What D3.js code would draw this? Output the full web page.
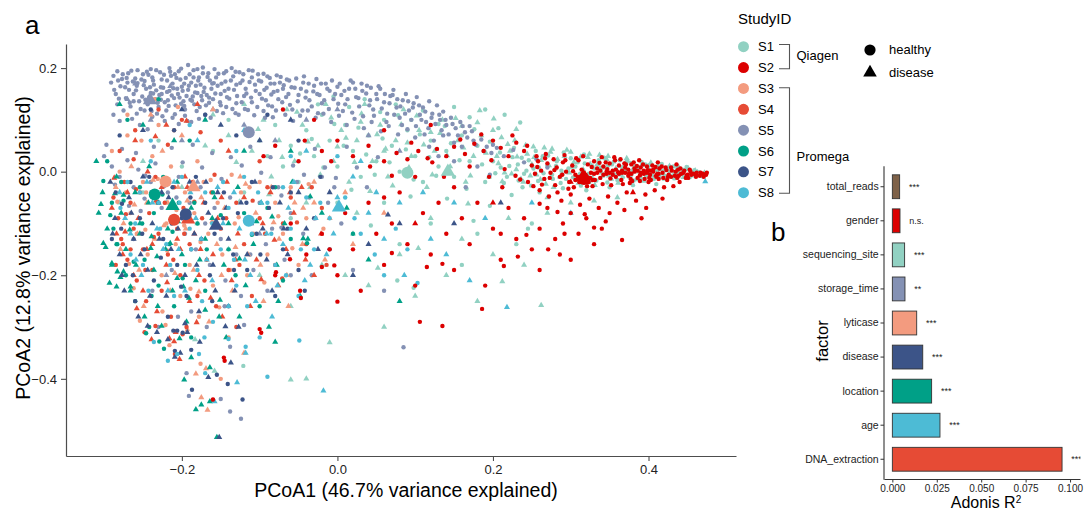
<!DOCTYPE html>
<html>
<head>
<meta charset="utf-8">
<script src="https://cdn.jsdelivr.net/npm/d3@7"></script>
<style>
  body { margin: 0; background: #fff; }
  svg { display: block; font-family: "Liberation Sans", Arial, Helvetica, sans-serif; }
</style>
</head>
<body>
<svg id="chart" width="1084" height="511"></svg>
<script>
// ---------- data ----------
// PCoA1 / PCoA2 coordinates, in thousandths
const s1Healthy = [[200,20],[210,8],[218,-10],[225,28],[232,14],[240,-4],[246,22],[252,6],[258,-18],[264,30],[270,12],[276,-6],[282,20],[288,2],[294,-14],[300,26],[306,10],[312,-4],[318,16],[324,-20],[330,6],[336,22],[342,-8],[348,12],[354,0],[360,-16],[366,8],[372,20],[378,-6],[384,4],[390,-12],[396,14],[402,-2],[408,8],[414,-10],[420,2],[426,-6],[432,10],[438,-2],[444,4],[450,-8],[456,0],[462,-4],[238,-30],[260,-40],[290,-32],[320,-36],[350,-30],[380,-26],[410,-24],
  [-100,60],[-90,30],[-80,90],[-70,10],[-60,50],[-50,-20],[-40,80],[-30,30],[-20,110],[-10,60],[0,10],[10,90],[20,40],[30,-10],[40,70],[50,20],[60,100],[70,50],[80,0],[90,80],[100,30],[110,-20],[120,60],[130,10],[140,40],[150,-10],[160,70],[170,20],[180,50],[190,-20],[-140,100],[-160,40],[-200,10],[-230,60],[-250,-40],[-120,-40],[-60,-90],[0,-60],[60,-60],[120,-100],[180,-120],[230,-140],[250,-100],[80,-140],[160,-180],
  [215,110],[235,95],[190,120],[170,105],[150,125],[130,92],[110,118],[95,100],[75,130],[55,115],[35,140],[15,125],[-5,145],[-25,130],[-121,-375],[77,-210],[98,-224],[245,-110],[175,-95],
  [203,-3],[209,37],[214,-22],[221,11],[227,46],[233,-17],[237,27],[243,2],[249,-27],[255,40],[259,8],[265,-3],[271,31],[277,-14],[281,11],[287,-22],[291,37],[297,6],[303,-11],[309,18],[313,-27],[317,33],[323,-4],[327,12],[333,-17],[339,8],[343,27],[347,-21],[353,14],[357,-6],[363,22],[367,-11],[371,3],[377,17],[381,-17],[387,8],[391,19],[397,-8],[401,13],[407,-14],[411,3],[417,15],[421,-8],[427,1],[433,-13],[437,7],[443,-3],[449,9],[453,-11],[459,3],[465,-1],[469,-9],
  [-48,35],[-33,63],[-18,8],[-4,92],[8,50],[18,-35],[27,85],[37,33],[48,-6],[58,64],[67,18],[78,109],[88,43],[98,-15],[106,72],[118,28],[127,-8],[138,88],[146,55],[157,22],[166,-33],[176,82],[186,14],[196,58],[207,84],[224,-45],[141,-52],[94,-48],[43,-104],[196,-66]];
const s1Disease = [[205,30],[215,-2],[222,40],[230,4],[236,-14],[244,34],[250,14],[256,-6],[262,22],[268,-24],[274,38],[280,6],[286,-10],[292,30],[298,-2],[304,18],[310,-22],[316,4],[322,28],[328,-12],[334,14],[340,-2],[346,24],[352,-14],[358,6],[364,-6],[370,14],[376,-10],[382,10],[388,0],[394,-18],[400,6],[406,-8],[412,12],[418,-4],[424,6],[430,-10],[436,2],[442,-6],[448,4],[454,-4],[460,2],[466,-6],[472,-2],[270,-50],[300,-60],[330,-56],[360,-50],[270,-80],[228,60],[252,48],[276,44],[300,38],[324,34],[348,30],[372,26],
  [-160,110],[-140,70],[-120,130],[-110,40],[-95,100],[-85,-10],[-75,60],[-65,120],[-55,20],[-45,90],[-35,-30],[-25,50],[-15,130],[-5,20],[5,80],[15,-20],[25,60],[35,130],[45,20],[55,90],[65,-10],[75,60],[85,120],[95,30],[105,80],[115,-30],[125,40],[135,100],[145,10],[155,60],[165,-20],[175,30],[185,70],[195,-10],[180,95],[200,80],[160,88],[120,76],[90,56],[60,40],[30,96],[0,48],
  [-220,-60],[-180,-100],[-140,-150],[-100,-200],[-60,-260],[-20,-180],[20,-120],[40,-220],[60,-300],[80,-160],[100,-240],[120,-90],[140,-200],[160,-130],[180,-250],[200,-160],[220,-90],[240,-180],[262,-258],[-40,-400],[-10,-330],[-250,20],[-200,-30],[-170,50],[-280,-60],[-183,-324],[-158,-385],[-60,-402],[10,-200],[-126,-58],
  [207,16],[212,-19],[219,53],[224,-4],[231,29],[239,-20],[242,51],[248,-8],[253,28],[261,-15],[266,46],[272,12],[278,-30],[283,24],[289,-4],[295,42],[301,9],[307,-15],[313,29],[319,-8],[325,15],[331,-26],[337,32],[343,7],[349,-8],[355,19],[361,-22],[367,1],[373,21],[379,2],[385,-15],[391,12],[397,-3],[403,17],[409,-10],[415,4],[421,-14],[427,11],[433,-4],[439,8],[445,-11],[451,6],[457,-8],[463,-1],
  [-130,18],[-102,82],[-88,-44],[-71,28],[-52,115],[-38,58],[-22,-6],[-8,104],[11,65],[22,18],[31,112],[42,-38],[51,72],[62,44],[71,-27],[82,91],[92,8],[102,108],[111,52],[122,-6],[132,74],[141,31],[152,103],[162,46],[171,-8],[183,118],[191,36],[201,102],[211,66],[230,82],[-40,-60],[25,-80],[104,-148],[168,-62],[212,-212],[52,-186]];
const s2Healthy = [[250,12],[254,-4],[258,20],[262,2],[266,-14],[270,16],[274,-2],[278,24],[282,8],[286,-10],[290,18],[294,0],[298,-20],[302,12],[306,-6],[310,22],[314,4],[318,-14],[322,14],[326,-2],[330,20],[334,6],[338,-12],[342,10],[346,-4],[350,16],[354,2],[358,-10],[362,12],[366,-2],[370,8],[374,-8],[378,14],[382,0],[386,-12],[390,8],[394,-4],[398,10],[402,-6],[406,4],[410,-10],[414,6],[418,-2],[422,8],[426,-6],[430,2],[434,-8],[438,4],[442,-4],[446,2],[450,-6],[454,0],[458,-4],[462,-2],[466,-8],[470,-4],[474,-6],
  [256,30],[268,34],[280,-26],[292,32],[304,-30],[316,30],[328,-28],[340,28],[352,-26],[364,24],[376,-22],[388,22],[400,-20],[412,18],[424,-16],[436,14],[448,-12],
  [260,-36],[272,-48],[288,-56],[300,-44],[312,-64],[324,-52],[336,-70],[348,-48],[360,-60],[372,-40],[384,-56],[396,-44],[408,-36],[420,-30],[432,-28],[440,-20],
  [315,-8],[320,-10],[322,-16],[318,-20],[325,-12],[312,-14],[330,-4],[334,-2],[338,2],[342,-6],[346,0],[350,-2],[354,-6],[358,4],[362,-4],[366,2],[370,-2],[374,4],[378,-4],[382,6],[386,2],[390,-2],[394,2],[398,-2],[402,2],[406,0],
  [345,18],[357,22],[369,16],[381,18],[393,14],[405,12],[417,10],[429,8],[441,6],[453,4],[365,-16],[377,-14],[389,-18],[401,-12],[413,-14],[425,-10],[437,-12],[449,-8],[461,-10],
  [240,40],[230,56],[220,30],[210,46],[200,60],[188,40],[176,54],[164,34],[150,48],[140,30],[128,44],[116,26],[104,40],[90,24],[76,36],[60,20],[40,50],[20,30],[0,60],[-20,40],[-50,20],[-80,50],[-30,100],[-70,120],[60,80],[120,90],[170,10],[195,-10],[215,5],[235,-15],[225,70],[245,-20],
  [-60,-100],[-40,-160],[-20,-120],[0,-200],[10,-80],[20,-150],[30,-230],[40,-60],[50,-120],[60,-180],[70,-100],[80,-40],[90,-140],[100,-220],[110,-80],[120,-160],[130,-60],[140,-120],[150,-190],[160,-90],[170,-140],[180,-60],[190,-220],[200,-110],[210,-170],[220,-70],[230,-130],[240,-90],[250,-150],[260,-110],[270,-70],[280,-130],[290,-100],[300,-80],[310,-120],[320,-90],[330,-140],[340,-110],[350,-80],[260,-190],[300,-170],[-80,-200],[-10,-150],[210,-120],[150,-30],[100,-10],[60,-50],
  [-61,-169],[-20,-184],[-4,-181],[-48,-230],[-47,-244],[0,-251],[-100,-304],[-98,-311],[-146,-359],[-145,-365],[-160,-440],[-79,-194],[70,-157],[115,-184],[135,-178],[186,-265],[214,-182],[106,-290],[135,-298],
  [252,-28],[257,9],[263,-25],[267,26],[273,-12],[279,3],[283,-40],[289,-6],[293,22],[297,-33],[303,1],[307,26],[311,-20],[317,-2],[321,-28],[327,9],[331,-16],[337,17],[341,-24],[347,5],[351,-13],[356,28],[361,-1],[367,-24],[371,14],[375,-3],[379,-18],[385,11],[389,-7],[395,-14],[399,3],[403,-16],[409,9],[413,-4],[419,-12],[423,3],[429,-10],[435,0],[439,-8],[445,-2],[451,-12],[455,-6],[461,-6],[467,-2],[471,-10],[475,-2],[316,-18],[319,-6],[323,-20],[309,-10],[313,-18],[328,-16],[306,-16],[260,-62],[283,-78],[318,-82],[345,-96],[369,-74],[397,-70],[418,-52],[292,-120],[330,-108],[366,-132],[286,-160],[243,-122],[232,-164],[271,-150],[391,-90],
  [158,62],[185,72],[198,22],[229,-8],[244,50],[212,-30],[137,-10],[122,18],[95,56],[70,-8],[42,10],[-8,20],[-42,60],[-95,30]];
const s2Disease = [[320,-12],[380,-40],[200,-60],[100,-100],[300,-20],[410,-6]];
const s3Healthy = [[-290,40],[-280,0],[-272,-40],[-266,-80],[-258,-120],[-250,-20],[-244,-160],[-238,30],[-232,-60],[-226,-200],[-220,-100],[-214,10],[-208,-140],[-202,-240],[-196,-40],[-190,-180],[-184,-80],[-178,-280],[-172,-20],[-166,-120],[-160,-220],[-154,-60],[-148,-160],[-140,-320],[-132,-100],[-124,-40],[-116,-200],[-108,-120],[-100,-20],[-90,-160],[-80,-60],[-70,-120],[-60,-30],[-50,-180],[-40,-90],[-225,-270],[-262,-225],[-150,-400],[-252,60],[-210,80],[-216,-335],[-193,-306],[-176,-371],[-254,-288],[-221,-296],[-270,110],[-235,140],[-205,125],
  [-283,-58],[-268,-178],[-247,-112],[-231,-14],[-219,-152],[-207,-74],[-189,-226],[-176,-136],[-163,-16],[-152,-262],[-138,-190],[-127,-88],[-113,-30],[-94,-214],[-76,-86],[-58,-148],[-37,-24],[-18,-110],[-246,-40],[-197,-104],[-270,70],[-230,90],[-180,20],[-136,-6]];
const s3Disease = [[-285,-30],[-275,-100],[-265,10],[-255,-190],[-245,-60],[-235,-130],[-225,40],[-215,-230],[-205,-30],[-195,-110],[-185,-190],[-175,-50],[-165,-290],[-155,-140],[-145,-70],[-135,-230],[-125,-10],[-115,-160],[-105,-80],[-95,-250],[-85,-30],[-75,-130],[-65,-200],[-55,-60],[-45,-140],[-120,-350],[-30,-20],[-10,-90],[20,-140],[60,-80],[-200,70],[-160,120],[-240,110],[-182,-390],[-169,-380],[-175,-436],[-167,-460],[-30,-60],
  [-279,-150],[-261,-64],[-249,-260],[-237,-16],[-223,-104],[-209,-196],[-193,-56],[-178,-232],[-161,-96],[-149,-200],[-131,-146],[-118,-24],[-99,-180],[-82,-98],[-63,-260],[-44,-70],[-16,-170],[10,-40],[-257,-120],[-218,-60]];
const s4Healthy = [[-288,-50],[-282,-90],[-278,-130],[-274,-20],[-270,-170],[-266,-60],[-262,-110],[-258,-210],[-254,-40],[-250,-150],[-246,-250],[-242,-80],[-238,-190],[-234,-10],[-230,-120],[-226,-230],[-222,-60],[-218,-160],[-214,-280],[-210,-30],[-206,-110],[-202,-200],[-198,-70],[-194,-300],[-190,-140],[-186,-20],[-180,-240],[-174,-90],[-168,-170],[-162,-40],[-156,-260],[-150,-110],[-140,-190],[-130,-60],[-120,-140],[-110,-240],[-100,-90],[-90,-30],[-80,-180],[-70,-100],[-60,-50],[-40,-140],[-20,-70],[-280,40],[-260,80],[-230,120],[-200,100],[-150,60],[-100,20],[-130,-300],[-199,-314],[-209,-352],[-234,-298],[-160,-441],[-276,-140],[-266,-150],
  [-285,-180],[-272,-82],[-259,-34],[-247,-190],[-236,-126],[-223,-16],[-211,-170],[-197,-120],[-184,-58],[-171,-210],[-158,-6],[-143,-90],[-126,-180],[-109,-56],[-93,-120],[-71,-206],[-52,-98],[-33,-30],[-14,-180],[-262,24],[-218,52],[-176,76],[-248,-310]];
const s4Disease = [[-290,-70],[-284,-120],[-276,-160],[-270,-40],[-262,-200],[-256,-90],[-250,-230],[-244,0],[-238,-140],[-232,-270],[-226,-30],[-220,-180],[-214,-90],[-208,-310],[-202,-150],[-196,-10],[-190,-250],[-184,-120],[-178,-200],[-172,-60],[-160,-160],[-154,-90],[-148,-280],[-142,-20],[-136,-210],[-128,-120],[-120,-50],[-112,-260],[-104,-170],[-96,-100],[-86,-40],[-76,-220],[-66,-150],[-56,-80],[-46,-30],[-260,60],[-220,90],[-180,130],[-140,40],[-30,-200],[-239,-324],[-216,-322],[-210,-328],[-203,-362],[-181,-291],
  [-287,-12],[-273,-116],[-258,-264],[-245,-150],[-233,-56],[-219,-214],[-206,-130],[-193,-30],[-176,-150],[-163,-244],[-149,-50],[-131,-170],[-116,-94],[-98,-208],[-81,-132],[-61,-40],[-41,-170],[-21,-120],[-234,68],[-194,98]];
const s5Healthy = [[-288,185],[-282,176],[-279,165],[-285,150],[-276,188],[-270,172],[-268,158],[-272,142],[-265,195],[-260,180],[-258,166],[-262,150],[-255,136],[-250,188],[-248,175],[-246,160],[-251,145],[-244,130],[-240,198],[-238,182],[-236,168],[-240,152],[-234,140],[-230,125],[-228,192],[-226,178],[-224,162],[-229,148],[-222,134],[-220,118],[-216,200],[-214,185],[-212,170],[-216,156],[-210,142],[-208,128],[-204,194],[-202,178],[-200,164],[-205,150],[-198,136],[-196,120],[-192,206],[-190,188],[-188,172],[-192,158],[-186,145],[-184,130],[-180,198],[-178,182],[-176,168],[-180,152],[-174,138],[-170,110],[-166,190],[-164,176],[-162,160],[-168,148],[-158,198],[-156,182],[-154,166],[-150,150],[-146,190],[-144,174],[-140,160],[-136,200],[-134,184],[-130,168],[-126,192],[-122,176],[-118,160],[-114,196],[-110,182],[-106,168],[-102,188],[-98,174],[-94,158],[-90,184],[-86,170],[-82,154],[-78,186],[-74,172],[-70,160],[-66,144],[-283,130],[-275,118],[-266,126],[-258,112],[-248,118],[-238,106],[-232,112],[-222,98],[-212,104],[-204,92],[-196,108],[-188,96],[-178,102],[-264,102],[-254,90],[-244,82],[-262,136],[-242,144],[-226,150],[-218,138],[-206,160],[-194,146],[-182,166],[-172,154],[-160,140],[-150,128],[-142,144],[-130,132],[-120,146],[-110,134],[-100,150],[-92,138],[-84,126],[-76,140],[-288,110],[-280,98],
  [-271,181],[-257,171],[-243,187],[-233,157],[-219,176],[-209,188],[-197,170],[-185,182],[-173,190],[-161,170],[-249,167],[-237,151],[-227,139],[-213,147],[-201,131],[-189,139],[-177,125],[-165,133],[-155,117],[-143,125],[-131,113],[-119,121],[-107,109],[-95,117],[-83,105],
  [-62,176],[-55,162],[-50,148],[-44,172],[-40,155],[-36,138],[-30,166],[-26,150],[-20,132],[-15,170],[-10,156],[-5,140],[0,164],[5,148],[10,130],[15,160],[20,172],[24,144],[28,126],[32,156],[38,166],[42,138],[46,120],[50,150],[55,160],[60,134],[64,112],[68,146],[72,158],[76,124],[80,104],[84,138],[88,150],[92,118],[98,132],[102,144],[106,110],[110,124],[114,96],[118,136],[122,112],[128,128],[132,100],[136,116],[140,90],[146,104],[152,84],[158,96],[164,76],[170,88],[-58,120],[-48,108],[-38,118],[-28,104],[-18,112],[-8,96],[2,108],[12,90],[22,102],[34,84],[44,96],[56,78],[66,88],[78,72],[90,82],[100,66],[112,72],[124,60],[136,70],[150,56],
  [160,48],[175,60],[188,40],[200,52],[214,30],[226,42],[240,18],[256,24],[270,8],[180,10],[196,-6],[150,20],[165,-30],[130,30],[118,48],[85,-339],
  [-300,30],[-290,10],[-280,-10],[-270,22],[-262,-30],[-256,4],[-248,-52],[-240,-20],[-234,16],[-226,-70],[-218,-40],[-210,-90],[-204,-10],[-196,-120],[-190,-60],[-182,-150],[-176,-30],[-170,-100],[-164,-180],[-158,-70],[-150,-130],[-144,-210],[-138,-50],[-130,-160],[-124,-240],[-116,-90],[-108,-190],[-100,-60],[-92,-140],[-84,-110],[-76,-30],[-68,-170],[-60,-80],[-52,-20],[-44,-120],[-36,-50],[-28,-90],[-20,-10],[-12,-60],[-4,-30],[-205,-280],[-230,-300],[-90,-230],[-60,-200],[20,-190],[60,-230],[-120,-296],[-138,-338],[-194,-389],[-191,-433],[-150,-439],[-138,-463],[-124,-477],
  [-291,172],[-287,158],[-283,194],[-281,141],[-277,179],[-273,163],[-269,190],[-267,133],[-263,174],[-259,157],[-257,196],[-253,121],[-252,178],[-247,139],[-245,193],[-241,163],[-239,117],[-237,176],[-233,196],[-231,133],[-227,163],[-225,107],[-223,187],[-219,154],[-217,127],[-215,193],[-211,161],[-209,111],[-207,181],[-203,143],[-201,199],[-199,156],[-197,127],[-195,181],[-193,98],[-191,166],[-187,137],[-185,196],[-183,153],[-181,117],[-179,176],[-175,146],[-173,201],[-171,162],[-169,128],[-167,183],[-165,143],[-163,104],[-159,171],[-157,151],[-153,189],[-151,134],[-149,170],[-147,113],[-145,156],[-143,194],[-139,141],[-137,176],[-135,121],[-133,158],[-131,193],[-129,146],[-127,110],[-125,171],[-123,134],[-121,188],[-117,151],[-115,119],[-113,173],[-111,143],[-109,195],[-105,156],[-103,125],[-101,176],[-97,141],[-95,189],[-93,104],[-91,162],[-89,128],[-87,181],[-85,149],[-81,170],[-79,118],[-77,156],[-73,183],[-71,134],[-69,167],[-67,110],[-65,178],[-63,150],[-61,129],[-59,163],[-57,98],[-53,180],[-51,136],[-47,160],[-45,118],[-43,184],[-41,143],[-37,170],[-33,126],[-31,155],[-27,179],[-25,113],[-23,148],[-21,170],[-17,138],[-13,160],[-11,121],[-7,176],[-3,150],[1,131],[3,170],[7,117],[9,156],[13,140],[17,176],[19,114],[23,160],[27,142],[31,170],[33,107],[37,151],[41,128],[43,162],[47,108],[51,140],[53,165],[57,122],[61,150],[63,96],[67,132],[71,148],[73,110],[77,140],[81,126],[83,90],[87,112],[91,136],[95,100],[97,124],[101,88],[105,128],[108,100],[113,116],[117,84],[121,104],[126,92],[131,110],[134,80],[139,100],[143,72],[148,92],[155,70],[161,88],[167,66],[173,78],[178,52],[185,62],[192,48],[198,36],[205,46],
  [-297,52],[-286,-25],[-277,44],[-268,-66],[-259,36],[-247,-8],[-236,48],[-223,-28],[-213,46],[-199,18],[-186,52],[-174,8],[-161,36],[-149,-14],[-137,28],[-123,12],[-112,48],[-98,-2],[-86,28],[-72,-46],[-57,12],[-43,-6],[-29,44],[-16,8],[-2,-12],[12,48],[25,8],[38,-30],[52,28],[-262,-130],[-238,-230],[-213,-190],[-188,-270],[-168,-300],[-145,-260],[-112,-160],[-72,-108],[-33,-200],[5,-100],[-253,-76],[-207,-50]];
const s5Disease = [[-270,140],[-240,100],[-200,60],[-160,120],[-120,90],[-80,60],[-40,100],[0,120],[40,70],[80,40],[-180,-20],[-100,-120],[-220,-200],[-260,170],[-215,165]];
const s6Healthy = [[-296,20],[-290,-60],[-284,-140],[-278,-20],[-272,-200],[-266,-100],[-260,-250],[-254,-30],[-248,-170],[-242,-300],[-236,-80],[-230,-220],[-224,-10],[-216,-140],[-210,-260],[-204,-60],[-196,-180],[-188,-320],[-180,-100],[-170,-230],[-160,-40],[-140,-150],[-120,-80],[-100,-260],[-80,-30],[-60,-130],[20,-120],[-270,100],[-230,140],[-190,60],[-246,-312],[-229,-328],[-223,-342],[-292,-84],[-283,-140],[-39,-138],
  [-301,-18],[-288,-110],[-275,-56],[-262,-174],[-251,-100],[-239,-240],[-225,-44],[-212,-116],[-199,-206],[-184,-60],[-168,-150],[-150,-84],[-131,-200],[-110,-122],[-90,-70],[-70,-210]];
const s6Disease = [[-310,20],[-302,-40],[-296,-110],[-290,-180],[-284,-10],[-278,-80],[-272,-150],[-266,-230],[-260,-40],[-254,-120],[-248,-280],[-242,10],[-236,-190],[-230,-60],[-218,-110],[-212,-230],[-206,-20],[-200,-160],[-194,-290],[-188,-70],[-182,-210],[-170,-130],[-158,-50],[-152,-280],[-146,-180],[-140,-100],[-128,-30],[-118,-220],[-108,-140],[-98,-60],[-88,-300],[-78,-180],[-68,-100],[-58,-20],[-48,-240],[-20,-80],[40,-170],[80,-250],[-210,60],[-250,90],[-280,130],[-170,100],[-120,40],[-60,40],[-155,-513],
  [-304,-63],[-301,-138],[-290,-177],[-283,-193],[-275,-193],[-293,-215],[-284,-222],[-266,-222],[-254,-100],[-239,-125],[-240,-148],[-232,-164],[-215,-138],[-206,-206],[-198,-222],[-170,-267],[-151,-248],[-126,-280],[-84,-87],[-44,-129],[-35,-48],[-275,-45],[-226,-298],[-203,-322],[-188,-359],[-164,-378],[-197,-402],[-164,-444],[-175,-450],[-182,-459],[-80,-329],
  [-307,-80],[-298,-146],[-286,-42],[-279,-204],[-267,-112],[-259,-180],[-243,-60],[-231,-260],[-221,-150],[-205,-96],[-191,-244],[-177,-170],[-161,-90],[-143,-320],[-126,-168],[-104,-96],[-76,-250],[-38,-130],[12,-70]];
const s7Healthy = [[-285,-40],[-278,-110],[-272,-180],[-266,-20],[-260,-250],[-254,-90],[-248,-150],[-242,-10],[-236,-210],[-230,-60],[-224,-130],[-218,-280],[-212,-30],[-206,-180],[-200,-90],[-194,-240],[-188,-150],[-182,-10],[-170,-60],[-164,-200],[-158,-120],[-146,-40],[-140,-260],[-134,-160],[-128,-80],[-116,-190],[-110,-20],[-104,-120],[-88,-70],[-80,-240],[-70,-150],[-60,-40],[-50,-190],[-30,-90],[-10,-150],[-240,120],[-210,80],[-170,110],[-130,70],[-90,110],[-50,60],[-280,70],[-211,-307],[-206,-307],[-199,-311],[-188,-344],[-209,-346],[-155,-392],[-141,-410],[-187,-421],[-122,-440],
  [-290,-130],[-277,-62],[-263,-200],[-251,-120],[-239,-40],[-227,-166],[-213,-100],[-201,-222],[-189,-50],[-175,-130],[-161,-250],[-147,-90],[-133,-190],[-117,-60],[-99,-160],[-83,-30],[-64,-110],[-42,-230],[-22,-10]];
const s7Disease = [[-292,-20],[-286,-90],[-280,-160],[-274,-230],[-268,-50],[-262,-130],[-256,-280],[-250,-10],[-244,-190],[-238,-100],[-232,-310],[-226,-40],[-220,-240],[-214,-150],[-208,-70],[-202,-350],[-196,-200],[-190,-20],[-184,-120],[-178,-270],[-166,-80],[-160,-180],[-154,-40],[-140,-130],[-132,-230],[-124,-60],[-116,-160],[-106,-20],[-96,-110],[-84,-230],[-74,-60],[-64,-160],[-40,-110],[-10,-40],[20,-200],[80,-100],[150,-100],[-152,-513],[-250,80],[-200,120],[-150,90],[-100,60],[-60,100],[-244,-298],[-196,-293],[-144,-299],[-218,-324],[-177,-329],[-209,-358],[-137,-369],[-166,-397],[65,-83],[210,-60],
  [-289,-120],[-277,-200],[-265,-80],[-253,-160],[-241,-240],[-229,-130],[-217,-50],[-205,-110],[-193,-310],[-181,-180],[-169,-20],[-157,-230],[-143,-70],[-127,-300],[-111,-100],[-91,-170],[-69,-110],[-50,-40],[-25,-150],[40,-140]];
const s8Healthy = [[-270,-20],[-260,-100],[-250,-180],[-240,20],[-230,-60],[-220,-140],[-210,-240],[-200,-10],[-190,-110],[-180,-190],[-170,-40],[-160,-290],[-150,-150],[-140,-70],[-130,-220],[-120,-10],[-110,-120],[-100,-320],[-90,-60],[-80,-180],[-70,-30],[-60,-110],[-50,-240],[-40,-50],[-30,-150],[-10,-90],[10,-50],[30,-120],[60,-200],[90,-150],[103,-215],[-240,60],[-190,90],[-130,40],[-60,30],[0,30],[-49,-326],[-90,-396],[-118,-338],[-140,-323],[-171,-320],[-178,-352],[-170,-389],[-218,-365],[-206,-352],[-236,-329],
  [-279,-70],[-266,-160],[-254,-40],[-243,-230],[-228,-110],[-215,-180],[-203,-60],[-188,-150],[-174,-250],[-161,-100],[-147,-20],[-133,-170],[-116,-260],[-102,-40],[-85,-120],[-66,-200],[-47,-150],[-22,-60],[22,-90],[48,-160],[75,-110]];
const s8Disease = [[-280,-40],[-266,-120],[-252,-200],[-238,-60],[-224,-150],[-210,-20],[-196,-230],[-182,-90],[-168,-170],[-154,-30],[-140,-260],[-126,-110],[-112,-200],[-98,-60],[-84,-280],[-70,-140],[-56,-20],[-42,-210],[-28,-90],[-14,-160],[0,-50],[20,-10],[40,-80],[60,-130],[80,-60],[86,-200],[140,-160],[170,-210],[218,-262],[-180,60],[-120,80],[-40,40],[30,20],[300,-80],[473,-19],[-18,-423],[-129,-407],[-118,-350],[-158,-444],[120,-130],
  [-273,-90],[-259,-170],[-245,-20],[-232,-110],[-218,-230],[-204,-150],[-189,-40],[-175,-130],[-161,-210],[-147,-100],[-133,-40],[-119,-170],[-105,-250],[-91,-120],[-77,-220],[-63,-70],[-35,-180],[-5,-120],[50,-40],[110,-40],[150,-60],[190,-90],[250,-60]];

const studies = ["S1", "S2", "S3", "S4", "S5", "S6", "S7", "S8"];
// group centroids per study (healthy / disease), thousandths
const centroidHealthy = [[90,-2],[317,-14],[-221,-19],[-210,-93],[-114,76],[-235,-44],[-195,-82],[-114,-95]];
const centroidDisease = [[142,0],[316,-10],[-185,-30],[-192,-92],[-241,138],[-212,-66],[-156,-104],[2,-69]];

const factors = ["total_reads", "gender", "sequencing_site", "storage_time", "lyticase", "disease", "location", "age", "DNA_extraction"];
const adonisR2 = [0.0041, 0.0043, 0.0069, 0.0071, 0.0137, 0.0171, 0.0221, 0.0268, 0.0955];
const signif = ["***", "n.s.", "***", "**", "***", "***", "***", "***", "***"];

// ---------- setup ----------
const palette = ["#91D1C2", "#DC0000", "#F39B7F", "#E64B35", "#8491B4", "#00A087", "#3C5488", "#4DBBD5"];
const barPalette = ["#7E6148", "#DC0000", "#91D1C2", "#8491B4", "#F39B7F", "#3C5488", "#00A087", "#4DBBD5", "#E64B35"];
const color = d3.scaleOrdinal(studies, palette);

const svg = d3.select("#chart");
const axisCol = "#4d4d4d";

// ---------- panel a: PCoA ----------
const x = d3.scaleLinear().domain([-0.349, 0.5125]).range([66, 736]);
const y = d3.scaleLinear().domain([-0.549, 0.2465]).range([456, 44]);

const layers = [
  ["S1", "disease", s1Disease], ["S1", "healthy", s1Healthy],
  ["S5", "healthy", s5Healthy], ["S5", "disease", s5Disease],
  ["S3", "healthy", s3Healthy], ["S3", "disease", s3Disease],
  ["S4", "healthy", s4Healthy], ["S4", "disease", s4Disease],
  ["S6", "healthy", s6Healthy], ["S6", "disease", s6Disease],
  ["S7", "healthy", s7Healthy], ["S7", "disease", s7Disease],
  ["S8", "healthy", s8Healthy], ["S8", "disease", s8Disease],
  ["S2", "healthy", s2Healthy], ["S2", "disease", s2Disease]
];
const points = layers.flatMap(([study, status, arr]) =>
  arr.map(p => ({ study, status, pc1: p[0] / 1000, pc2: p[1] / 1000 })));

const smallTri = d3.symbol().type(d3.symbolTriangle).size(16)();
const bigTri = d3.symbol().type(d3.symbolTriangle).size(88)();

const scatter = svg.append("g");
points.forEach(d => {
  if (d.status === "healthy") {
    scatter.append("circle")
      .attr("cx", x(d.pc1)).attr("cy", y(d.pc2)).attr("r", 2.2)
      .attr("fill", color(d.study));
  } else {
    scatter.append("path")
      .attr("d", smallTri)
      .attr("transform", `translate(${x(d.pc1)},${y(d.pc2)})`)
      .attr("fill", color(d.study));
  }
});

const cents = svg.append("g");
studies.forEach((s, i) => {
  const h = centroidHealthy[i], dz = centroidDisease[i];
  cents.append("circle")
    .attr("cx", x(h[0] / 1000)).attr("cy", y(h[1] / 1000)).attr("r", 6)
    .attr("fill", color(s));
  cents.append("path")
    .attr("d", bigTri)
    .attr("transform", `translate(${x(dz[0] / 1000)},${y(dz[1] / 1000)})`)
    .attr("fill", color(s));
});

const fmt1 = d3.format(".1f");
const xAxis = svg.append("g").attr("transform", "translate(0,456)")
  .call(d3.axisBottom(x).tickValues([-0.2, 0, 0.2, 0.4]).tickFormat(fmt1).tickSize(5).tickSizeOuter(0).tickPadding(4));
const yAxis = svg.append("g").attr("transform", "translate(66,0)")
  .call(d3.axisLeft(y).tickValues([-0.4, -0.2, 0, 0.2]).tickFormat(fmt1).tickSize(5).tickSizeOuter(0).tickPadding(4));
[xAxis, yAxis].forEach(g => {
  g.select(".domain").attr("stroke", axisCol).attr("stroke-width", 1.2);
  g.selectAll(".tick line").attr("stroke", axisCol).attr("stroke-width", 1.1);
  g.selectAll(".tick text").attr("fill", "#222").style("font-size", "13px")
    .style("font-family", "'Liberation Sans', Arial, sans-serif");
});

svg.append("text").attr("x", 406).attr("y", 497).attr("text-anchor", "middle")
  .style("font-size", "19.5px").text("PCoA1 (46.7% variance explained)");
svg.append("text").attr("transform", "translate(30,248) rotate(-90)").attr("text-anchor", "middle")
  .style("font-size", "19.5px").text("PCoA2 (12.8% variance explained)");
svg.append("text").attr("x", 25).attr("y", 34).style("font-size", "26px").text("a");

// ---------- legend ----------
const leg = svg.append("g");
leg.append("text").attr("x", 738).attr("y", 24).style("font-size", "15px").text("StudyID");
studies.forEach((s, i) => {
  const cy = 46.7 + i * 20.86;
  leg.append("circle").attr("cx", 743.5).attr("cy", cy).attr("r", 5.5).attr("fill", color(s));
  leg.append("text").attr("x", 758).attr("y", cy + 4.5).style("font-size", "13px").text(s);
});
const bracket = (y0, y1) => leg.append("path")
  .attr("d", `M779,${y0}H789.5V${y1}H779`).attr("fill", "none")
  .attr("stroke", "#555").attr("stroke-width", 1.1);
bracket(44.5, 68.8);
bracket(87.8, 193.2);
leg.append("text").attr("x", 796.5).attr("y", 59.5).style("font-size", "13px").text("Qiagen");
leg.append("text").attr("x", 796.5).attr("y", 160.5).style("font-size", "13px").text("Promega");
leg.append("circle").attr("cx", 870).attr("cy", 50).attr("r", 5.6).attr("fill", "#000");
leg.append("path").attr("d", d3.symbol().type(d3.symbolTriangle).size(80)())
  .attr("transform", "translate(870,72.5)").attr("fill", "#000");
leg.append("text").attr("x", 889).attr("y", 53.5).style("font-size", "13px").text("healthy");
leg.append("text").attr("x", 889).attr("y", 76.5).style("font-size", "13px").text("disease");

// ---------- panel b: Adonis R2 ----------
const bx = d3.scaleLinear().domain([-0.0047, 0.1056]).range([884, 1080]);
const by = d3.scaleBand().domain(factors).range([166.3, 479.7]).paddingInner(0.3).paddingOuter(0.25);

svg.append("defs").append("clipPath").attr("id", "clipB")
  .append("rect").attr("x", 884).attr("y", 150).attr("width", 196.5).attr("height", 340);

const bars = svg.append("g");
factors.forEach((f, i) => {
  bars.append("rect")
    .attr("x", bx(0)).attr("y", by(f))
    .attr("width", bx(adonisR2[i]) - bx(0)).attr("height", by.bandwidth())
    .attr("fill", barPalette[i]).attr("stroke", "#333").attr("stroke-width", 0.9);
});
const sig = svg.append("g").attr("clip-path", "url(#clipB)");
factors.forEach((f, i) => {
  sig.append("text")
    .attr("x", bx(adonisR2[i]) + 9.3).attr("y", by(f) + by.bandwidth() / 2 + 3)
    .style("font-size", "9px").attr("fill", "#222").text(signif[i]);
});

const bxAxis = svg.append("g").attr("transform", "translate(0,479)")
  .call(d3.axisBottom(bx).tickValues([0, 0.025, 0.05, 0.075, 0.1]).tickFormat(d3.format(".3f")).tickSize(3.5).tickSizeOuter(0).tickPadding(2));
const byAxis = svg.append("g").attr("transform", "translate(884,0)")
  .call(d3.axisLeft(by).tickSize(3.5).tickSizeOuter(0).tickPadding(1.8));
[bxAxis, byAxis].forEach(g => {
  g.select(".domain").attr("stroke", "#333").attr("stroke-width", 1.1);
  g.selectAll(".tick line").attr("stroke", "#333");
  g.selectAll(".tick text").attr("fill", "#222").style("font-size", "10px")
    .style("font-family", "'Liberation Sans', Arial, sans-serif");
});
byAxis.selectAll(".tick text").style("font-size", "10.5px");
byAxis.select(".domain").attr("d", "M0,166.3V479.7");

const adonis = svg.append("text").attr("x", 986).attr("y", 508).attr("text-anchor", "middle")
  .style("font-size", "16px");
adonis.append("tspan").text("Adonis R");
adonis.append("tspan").attr("dy", -5).style("font-size", "10px").text("2");
svg.append("text").attr("transform", "translate(828,341) rotate(-90)").attr("text-anchor", "middle")
  .style("font-size", "16.5px").text("factor");
svg.append("text").attr("x", 771).attr("y", 241).style("font-size", "26px").text("b");
</script>
</body>
</html>
